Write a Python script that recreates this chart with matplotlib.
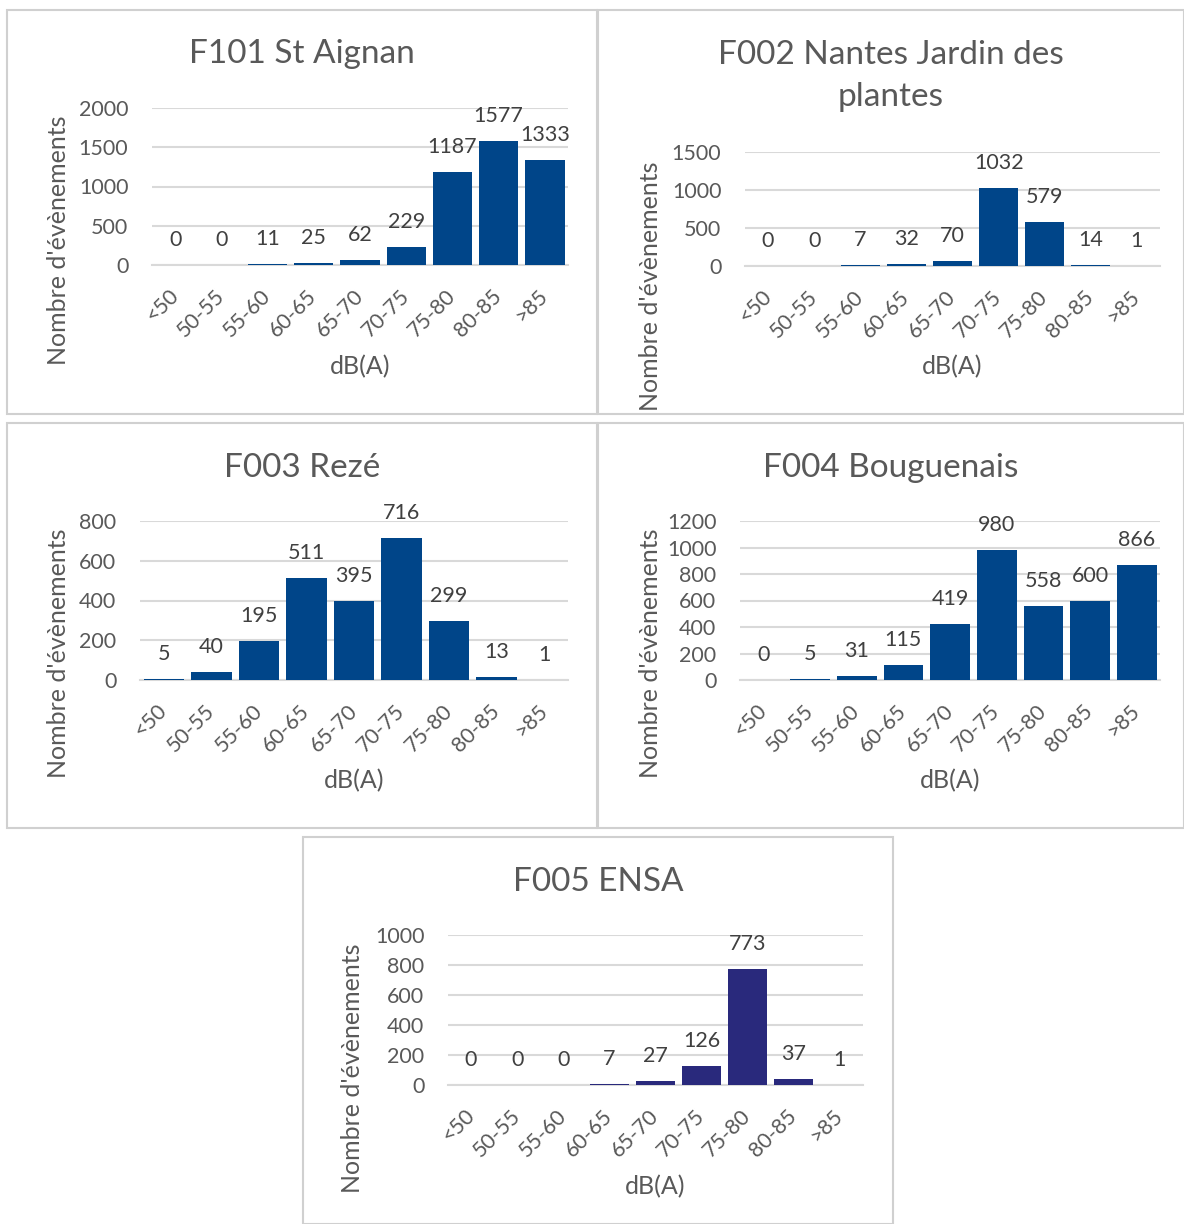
import numpy as np
import matplotlib
matplotlib.use("Agg")
import matplotlib.pyplot as plt
from matplotlib.patches import Rectangle

plt.rcParams['font.family'] = ['Lato', 'DejaVu Sans']

# classes de bruit
categories = ['<50', '50-55', '55-60', '60-65', '65-70', '70-75', '75-80', '80-85', '>85']

# nombre d'évènements par station
f101 = [0, 0, 11, 25, 62, 229, 1187, 1577, 1333]
f002 = [0, 0, 7, 32, 70, 1032, 579, 14, 1]
f003 = [5, 40, 195, 511, 395, 716, 299, 13, 1]
f004 = [0, 5, 31, 115, 419, 980, 558, 600, 866]
f005 = [0, 0, 0, 7, 27, 126, 773, 37, 1]

titles = ['F101 St Aignan', 'F002 Nantes Jardin des\nplantes', 'F003 Rezé',
          'F004 Bouguenais', 'F005 ENSA']
yticks_list = [[0, 500, 1000, 1500, 2000],
               [0, 500, 1000, 1500],
               [0, 200, 400, 600, 800],
               [0, 200, 400, 600, 800, 1000, 1200],
               [0, 200, 400, 600, 800, 1000]]
series = [f101, f002, f003, f004, f005]

W, H = 1184, 1224
GREY = '#595959'
GRID = '#d9d9d9'

# en pixels : cadre (x0, y0, x1, y1), zone de tracé (x0, y0, x1, y1)
frames = [(7, 10, 597, 414), (598, 10, 1184, 414), (7, 423, 597, 828),
          (598, 423, 1184, 828), (303, 837, 893, 1224)]
plots = [(152, 108, 568, 265), (745, 152, 1160, 266), (140, 521, 568, 680),
         (740, 521, 1160, 680), (448, 935, 863, 1085)]
title_y = [54, 76, 468, 468, 882]
ylab_x = [58, 650, 58, 650, 353]
ylab_y = [240, 286, 653, 653, 1068]
xlab_y = [367, 367, 781, 781, 1187]
colors = ['#004589', '#004589', '#004589', '#004589', '#29297c']

fig = plt.figure(figsize=(W / 100, H / 100), dpi=100)


def fx(x):
    return x / W


def fy(y):
    return 1 - y / H


for i in range(5):
    fr = frames[i]
    fig.patches.append(Rectangle((fx(fr[0]), fy(fr[3])), fx(fr[2] - fr[0]), (fr[3] - fr[1]) / H,
                                 transform=fig.transFigure, fill=False, edgecolor='#d0d0d0',
                                 linewidth=1.5, zorder=0))
    p = plots[i]
    ax = fig.add_axes([fx(p[0]), fy(p[3]), fx(p[2] - p[0]), (p[3] - p[1]) / H])
    vals = series[i]
    x = np.arange(len(categories))
    ax.bar(x, vals, width=0.85, color=colors[i], zorder=3)
    ymax = yticks_list[i][-1]
    ax.set_ylim(0, ymax)
    ax.set_xlim(-0.5, len(categories) - 0.5)
    ax.set_yticks(yticks_list[i])
    ax.yaxis.grid(True, color=GRID, linewidth=1.5, zorder=0)
    ax.set_axisbelow(True)
    for s in ['top', 'right', 'left']:
        ax.spines[s].set_visible(False)
    ax.spines['bottom'].set_color(GRID)
    ax.spines['bottom'].set_linewidth(1.5)
    ax.tick_params(axis='both', length=0, colors=GREY, labelsize=15.5)
    ax.tick_params(axis='y', pad=17)
    ax.set_xticks(x)
    ax.set_xticklabels(categories, rotation=45, ha='right', va='center',
                       rotation_mode='anchor')
    ax.tick_params(axis='x', pad=20)
    for xi, v in zip(x, vals):
        ax.annotate(str(v), (xi, v), xytext=(0, 18), textcoords='offset points',
                    ha='center', va='center', color='#404040', fontsize=15.5)
    cx = (fr[0] + fr[2]) / 2
    fig.text(fx(cx), fy(title_y[i]), titles[i], ha='center', va='center',
             color=GREY, fontsize=24, linespacing=1.5)
    fig.text(fx(ylab_x[i]), fy(ylab_y[i]), "Nombre d'évènements", rotation=90,
             ha='center', va='center', color=GREY, fontsize=18)
    fig.text(fx((p[0] + p[2]) / 2), fy(xlab_y[i]), 'dB(A)', ha='center', va='center',
             color=GREY, fontsize=18)

fig.savefig('out.png', dpi=100, facecolor='white')
